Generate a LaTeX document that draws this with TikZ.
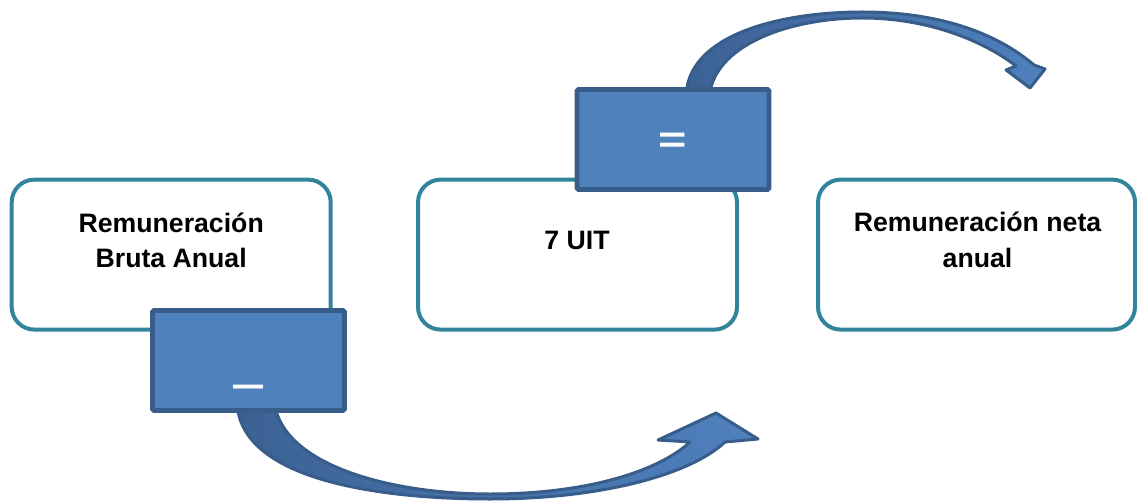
\documentclass[tikz,border=0pt]{standalone}
\usepackage{fontspec}
\setmainfont{Liberation Sans}
\definecolor{boxteal}{RGB}{49,132,155}
\definecolor{bluefill}{RGB}{79,129,189}
\definecolor{blueline}{RGB}{56,93,138}
\definecolor{bluedark}{RGB}{60,98,148}
\begin{document}
\begin{tikzpicture}[x=0.75pt,y=-0.75pt,
  roundbox/.style={draw=boxteal, line width=3pt, fill=white, rounded corners=17pt,
    minimum width=239.25pt, minimum height=112.5pt, inner sep=0pt},
  opbox/.style={draw=blueline, fill=bluefill, line width=3.5pt, rounded corners=1pt,
    minimum width=144pt, minimum height=75pt, inner sep=0pt},
  lbl/.style={font=\bfseries\fontsize{20}{24}\selectfont, anchor=base, inner sep=0pt},
  signlbl/.style={text=white, font=\bfseries, anchor=base, inner sep=0pt},
  curvedarrow/.style={draw=blueline, line width=2.25pt, line join=round,
    left color=bluedark, right color=bluefill}]
\useasboundingbox (0,0) rectangle (1137,502);

% rounded boxes
\node[roundbox] (gross) at (171.2,254.6) {};
\node[roundbox] (uit) at (577.5,254.6) {};
\node[roundbox, minimum width=237.75pt] (net) at (976.5,254.6) {};

% labels
\node[lbl] (grossA) at (171.2,233) {Remuneración};
\node[lbl] (grossB) at (171.2,267) {Bruta Anual};
\node[lbl] (uitT) at (577,249) {7 UIT};
\node[lbl] (netA) at (977.5,232) {Remuneración neta};
\node[lbl] (netB) at (977.5,267) {anual};

% curved arrows
\coordinate (bstartL) at (237,400);
\coordinate (bstartR) at (274,400);
\coordinate (btip) at (716,413);
\draw[curvedarrow] (bstartL) .. controls (237,480) and (380,499) .. (490,499)
  .. controls (600,499) and (690,475) .. (725,442) -- (758,439) -- (btip)
  -- (658,440) -- (690,442) .. controls (660,470) and (590,494) .. (490,494)
  .. controls (390,494) and (280,465) .. (bstartR) -- cycle;

\coordinate (tstartL) at (686,100);
\coordinate (tstartR) at (709,100);
\coordinate (ttip) at (1030,88);
\draw[curvedarrow] (tstartL) .. controls (684,35) and (780,12) .. (862,12)
  .. controls (945,12) and (1000,36) .. (1034,65) -- (1045,69) -- (ttip)
  -- (1006,70) -- (1016,66) .. controls (985,42) and (930,18) .. (862,18)
  .. controls (790,18) and (711,45) .. (tstartR) -- cycle;

% operator boxes
\node[opbox] (minus) at (248.5,360.5) {};
\node[opbox] (equals) at (673,139.5) {};
\node[signlbl, font=\bfseries\fontsize{22.5}{27}\selectfont, yscale=1.3] (minussign) at (248,397) {—};
\node[signlbl, font=\bfseries\fontsize{28}{33}\selectfont, xscale=1.3] (equalsign) at (673,153) {=};
\end{tikzpicture}
\end{document}
